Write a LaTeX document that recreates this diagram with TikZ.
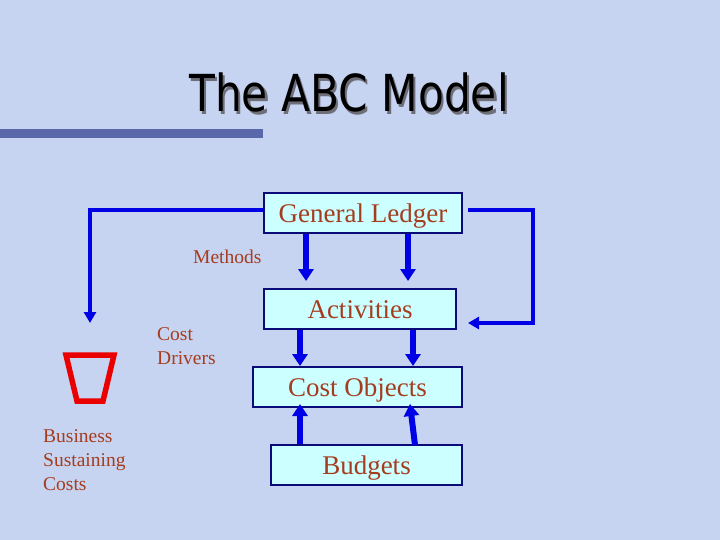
\documentclass[tikz,border=0pt]{standalone}
\usepackage{fontspec}
\setmainfont{Liberation Serif}
\newfontfamily\titlefont{DejaVu Sans}
\usetikzlibrary{arrows.meta}
\definecolor{bgc}{RGB}{198,212,242}
\definecolor{boxfill}{RGB}{204,255,255}
\definecolor{boxline}{RGB}{10,10,120}
\definecolor{txt}{RGB}{165,60,30}
\definecolor{arr}{RGB}{0,0,230}
\definecolor{barc}{RGB}{88,104,170}
\definecolor{trap}{RGB}{235,0,0}
\definecolor{shad}{RGB}{110,110,120}
\tikzset{
  box/.style={draw=boxline, line width=1.3pt, fill=boxfill, minimum height=40pt, inner sep=0pt,
    text height=19.5pt, text depth=0pt, text=txt, font=\fontsize{27}{30}\selectfont},
  lbl/.style={text=txt, font=\fontsize{19.5}{24}\selectfont, align=left, inner sep=0pt, anchor=west},
  fat/.style={draw=arr, line width=6pt, -{Triangle[width=15pt,length=12pt]}},
  loop/.style={draw=arr, line width=4pt, -{Triangle[width=12pt,length=11pt]}},
}
\newcommand{\ttl}{The ABC Model}
\begin{document}
\begin{tikzpicture}[x=1pt,y=-1pt]
\fill[bgc] (0,0) rectangle (720,540);
\useasboundingbox (0,0) rectangle (720,540);
% title
\node[font=\titlefont\fontsize{51}{55}\selectfont, inner sep=0pt, anchor=base, xscale=0.83] (title) at (349,112)
  {\makebox[0pt][l]{\hspace{2.5pt}\raisebox{-2.5pt}{\color{shad}\ttl}}\ttl};
\fill[barc] (0,129) rectangle (263,138);
% boxes
\node[box, minimum width=198pt] (gl) at (363,213) {General Ledger};
\node[box, minimum width=192pt] (act) at (360,309) {Activities};
\node[box, minimum width=209pt] (co) at (357.5,387) {Cost Objects};
\node[box, minimum width=191pt] (bud) at (366.5,465) {Budgets};
% labels
\node[lbl] (methods) at (193,257) {Methods};
\node[lbl] (drivers) at (157,346) {Cost\\Drivers};
\node[lbl] (bsc) at (43,460) {Business\\Sustaining\\Costs};
% trapezoid
\draw[trap, line width=5.5pt, line join=miter] (66,355) -- (114,355) -- (103,401) -- (77,401) -- cycle;
% arrows
\coordinate (a1) at (306,281);
\coordinate (a2) at (408,281);
\draw[fat] (gl.south -| a1) -- (a1);
\draw[fat] (gl.south -| a2) -- (a2);
\coordinate (b1) at (300,366);
\coordinate (b2) at (413,366);
\draw[fat] (act.south -| b1) -- (b1);
\draw[fat] (act.south -| b2) -- (b2);
\coordinate (c1) at (300,404);
\coordinate (c2) at (410,404);
\coordinate (c2s) at (415,445);
\draw[fat] (bud.north -| c1) -- (c1);
\draw[fat] (c2s) -- (c2);
% loops
\coordinate (lt) at (90,323);
\draw[loop] (gl.west |- 0,210) -- (90,210) -- (lt);
\coordinate (rt) at (468,323);
\draw[loop] (468,210) -- (533,210) -- (533,323) -- (rt);
\end{tikzpicture}
\end{document}
